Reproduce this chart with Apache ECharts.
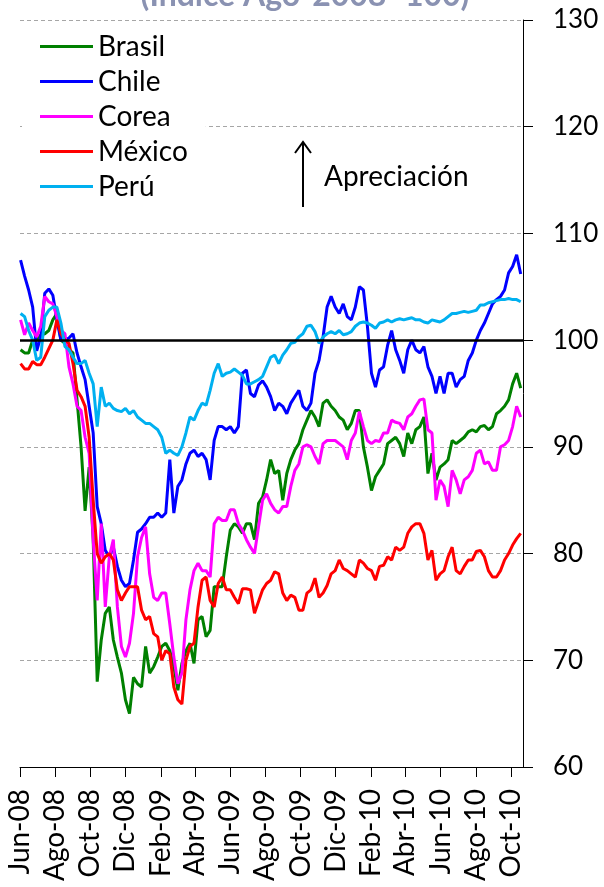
<!DOCTYPE html>
<html>
<head>
<meta charset="utf-8">
<title>Tipo de cambio real</title>
<script src="https://cdn.jsdelivr.net/npm/echarts@6.0.0/dist/echarts.min.js"></script>
<style>
  html, body { margin: 0; padding: 0; background: #fff; }
  #chart { width: 604px; height: 887px; }
</style>
</head>
<body>
<div id="chart"></div>
<script>
// semanas desde el lunes 2 de junio de 2008
const firstWeek = '2008-06-02'
const stepDays = 7

// marcas del eje X (cada dos meses)
const tickDates = ['2008-06-01', '2008-08-01', '2008-10-01', '2008-12-01', '2009-02-01', '2009-04-01', '2009-06-01',
  '2009-08-01', '2009-10-01', '2009-12-01', '2010-02-01', '2010-04-01', '2010-06-01', '2010-08-01', '2010-10-01']
const tickLabels = ['Jun-08', 'Ago-08', 'Oct-08', 'Dic-08', 'Feb-09', 'Abr-09', 'Jun-09',
  'Ago-09', 'Oct-09', 'Dic-09', 'Feb-10', 'Abr-10', 'Jun-10', 'Ago-10', 'Oct-10']
const axisStart = '2008-06-01'
const axisEnd = '2010-10-22'

// Índice Ago-2008=100
const brasil = [99.1, 98.8, 98.8, 100, 100, 100.5, 100.6, 100.9, 101.9, 102.5,
  100, 99.7, 99.1, 98.8, 94.4, 90, 84, 88.1, 81.3, 68,
  71.9, 74.4, 75, 71.9, 70.3, 68.8, 66.3, 65, 68.4, 67.8,
  67.5, 71.3, 68.8, 69.4, 70.3, 71.3, 71.6, 70.9, 69.4, 67.2,
  69.7, 70.9, 71.6, 69.7, 73.8, 74.1, 72.2, 72.8, 76.9, 76.9,
  76.9, 79.7, 82.2, 82.8, 82.5, 81.9, 82.8, 82.8, 81.3, 84.7,
  85.3, 86.9, 88.8, 87.5, 87.8, 85, 87.5, 88.8, 89.7, 90.3,
  91.6, 92.5, 93.4, 92.8, 91.9, 94.1, 94.4, 93.8, 93.4, 92.8,
  92.5, 91.6, 92.2, 93.4, 93.4, 90, 88.1, 85.9, 87.2, 87.8,
  88.4, 90.3, 90.6, 90.9, 90.3, 89.1, 91.3, 90.3, 91.6, 91.9,
  92.8, 87.5, 89.4, 86.9, 88.1, 88.4, 88.8, 90.6, 90.3, 90.6,
  90.9, 91.4, 91.6, 91.4, 91.9, 92, 91.6, 91.9, 93.1, 93.4,
  93.8, 94.4, 95.9, 96.9, 95.5]
const chile = [107.5, 106, 104.7, 103.1, 99, 100.3, 104.4, 104.8, 104.2, 101.9,
  100, 100, 100.2, 100.6, 98.8, 97.5, 96.3, 93.8, 91.3, 84.4,
  82.8, 80.3, 79.7, 80.6, 78.8, 77.5, 76.9, 77.2, 79.4, 82,
  82.3, 82.8, 83.4, 83.4, 83.8, 83.4, 83.8, 88.8, 83.8, 86.3,
  86.9, 88.4, 89.4, 89.7, 89.1, 89.4, 88.8, 86.9, 90.6, 91.9,
  91.9, 91.6, 91.9, 91.3, 91.9, 96.9, 97.2, 95, 94.7, 95.8,
  96.2, 95.6, 94.7, 93.4, 94.1, 93.8, 93.1, 94.1, 94.7, 95.3,
  93.8, 93.4, 94.1, 96.9, 98.1, 100.3, 103.1, 104.1, 103.1, 102.5,
  103.4, 102.2, 101.9, 103.1, 105, 104.7, 101.3, 96.9, 95.6, 97.2,
  97.5, 99.5, 100.9, 99.1, 98.1, 96.9, 99.1, 100, 99.1, 98.8,
  99.4, 97.5, 96.6, 95, 96.6, 95, 96.9, 96.9, 95.6, 96.3,
  96.6, 98.1, 98.8, 100, 100.9, 101.6, 102.5, 103.4, 103.8, 104.1,
  104.7, 106.3, 106.9, 108, 106.2]
const corea = [101.9, 100.5, 101.6, 100.9, 100.3, 101.3, 104.1, 103.6, 103.4, 102.2,
  100.9, 100.6, 97.5, 95.9, 93.8, 93.4, 90.9, 89.4, 81.3, 75.6,
  82.8, 75, 79.7, 81.3, 75, 71.3, 70.3, 71.6, 74.4, 79.7,
  81.5, 82.5, 78.1, 75.9, 75.6, 76.3, 76.3, 73.4, 70.3, 67.8,
  68.8, 73.8, 76.6, 78.4, 79.1, 78.4, 78.4, 77.8, 82.8, 83.4,
  83.1, 83.1, 84.1, 84.1, 82.8, 82.2, 81.3, 80.6, 80, 82.5,
  85, 85.6, 84.7, 84.1, 83.8, 84.4, 84.4, 86.3, 87.8, 88.4,
  90, 90.2, 90, 89.1, 88.4, 90.3, 90.6, 90.6, 90.6, 90.3,
  90, 88.8, 90.6, 91.3, 93.3, 91.9, 90.6, 90.3, 90.6, 90.5,
  91.3, 91.3, 92.5, 92.3, 92.2, 91.6, 92.8, 93.1, 93.8, 94.4,
  94.5, 91.6, 91.3, 85, 86.9, 86.3, 84.4, 87.8, 86.9, 85.6,
  86.9, 87.2, 87.8, 89.4, 89.7, 88.4, 88.6, 87.8, 87.8, 90,
  90.2, 90.6, 91.9, 93.8, 92.8]
const mexico = [97.8, 97.3, 97.3, 98, 97.7, 97.7, 98.4, 99.2, 100, 101.9,
  100.6, 100, 99.7, 97.8, 95.3, 94.7, 93.8, 90.9, 85, 80,
  79.1, 79.7, 80, 79.4, 76.6, 75.6, 76.3, 76.9, 76.9, 76.9,
  74.7, 73.8, 74.1, 72.5, 72.2, 70, 70.9, 70.6, 67.5, 66.3,
  65.9, 70, 71.3, 71.6, 75, 77.5, 77.8, 75.6, 75, 77.2,
  77.8, 76.6, 76.6, 75.9, 75.3, 76.7, 76.7, 76.6, 74.4, 75.5,
  76.6, 77.2, 77.5, 78.3, 78.1, 76.3, 75.6, 76.1, 75.9, 74.7,
  74.7, 76.3, 76.6, 77.7, 75.9, 76.3, 77, 78.1, 78.4, 79.4,
  78.6, 78.4, 78.1, 77.8, 79.4, 79.1, 78.6, 78.4, 77.5, 78.8,
  78.9, 79.7, 79.4, 80.6, 80.3, 80.6, 81.9, 82.5, 82.8, 82.8,
  81.9, 79.4, 80.3, 77.5, 78.1, 78.4, 79.7, 80.6, 78.4, 78.1,
  78.8, 79.4, 79.4, 80.2, 80.3, 79.7, 78.4, 77.8, 77.8, 78.4,
  79.4, 80, 80.8, 81.4, 81.9]
const peru = [102.5, 102.2, 100.9, 100, 98.1, 98.4, 102.2, 102.8, 103.1, 103.1,
  101.6, 99.4, 99.1, 98.4, 97.8, 97.8, 98.1, 96.9, 95.9, 91.9,
  95.6, 93.8, 94.1, 93.6, 93.4, 93.3, 93.6, 93.1, 93.4, 92.8,
  92.5, 92.2, 92.2, 91.9, 91.6, 90.9, 89.4, 89.7, 89.4, 89.2,
  90, 91.3, 92.8, 92.5, 93.4, 94.1, 93.9, 95.3, 96.9, 97.8,
  96.6, 96.9, 97, 97.3, 97, 96.7, 95.9, 95.9, 96.1, 96.3,
  96.6, 97.5, 98.4, 98.6, 97.8, 98.6, 99.1, 99.7, 99.8, 100.3,
  100.6, 101.3, 101.4, 100.8, 99.7, 100.3, 100.6, 100.8, 100.6, 100.9,
  100.5, 100.6, 100.8, 101.3, 101.6, 101.7, 101.6, 101.4, 101.1, 101.6,
  101.7, 101.9, 101.7, 101.9, 102, 101.9, 102, 102.1, 101.9, 101.9,
  101.7, 101.6, 101.9, 101.8, 101.7, 101.9, 102.2, 102.5, 102.5, 102.6,
  102.7, 102.6, 102.7, 102.8, 103.3, 103.3, 103.5, 103.6, 103.7, 103.8,
  103.8, 103.9, 103.8, 103.8, 103.6]

const DAY = 24 * 3600 * 1000
function utc(s) {
  const p = s.split('-').map(Number)
  return Date.UTC(p[0], p[1] - 1, p[2])
}
const weekTimes = brasil.map((_, i) => utc(firstWeek) + i * stepDays * DAY)
const tickTimes = tickDates.map(utc)
function pairs(arr) {
  return arr.map((v, i) => [weekTimes[i], v])
}

const font = 'Lato, "Open Sans", sans-serif'

function lineSeries(name, color, data) {
  return {
    name: name,
    type: 'line',
    data: pairs(data),
    showSymbol: false,
    symbol: 'none',
    lineStyle: { color: color, width: 3 },
    itemStyle: { color: color },
    silent: true
  }
}

const series = [
  lineSeries('Brasil', '#008000', brasil),
  lineSeries('Chile', '#0000ff', chile),
  lineSeries('Corea', '#ff00ff', corea),
  lineSeries('México', '#ff0000', mexico),
  lineSeries('Perú', '#00b0f0', peru)
]
// línea de referencia en 100
series[4].markLine = {
  silent: true,
  symbol: 'none',
  label: { show: false },
  lineStyle: { color: '#000', width: 2.5, type: 'solid' },
  data: [{ yAxis: 100 }]
}

var chart = echarts.init(document.getElementById('chart'))
var option = {
  animation: false,
  backgroundColor: '#fff',
  grid: { left: 20, right: 81, top: 20, bottom: 120 },
  legend: {
    orient: 'vertical',
    left: 22,
    top: 27,
    padding: [2, 18, 2, 18],
    backgroundColor: '#fff',
    icon: 'rect',
    itemWidth: 53,
    itemHeight: 3,
    itemGap: 0,
    textStyle: { fontFamily: font, fontSize: 28, color: '#000', lineHeight: 35 },
    data: ['Brasil', 'Chile', 'Corea', 'México', 'Perú']
  },
  xAxis: {
    type: 'value',
    min: utc(axisStart),
    max: utc(axisEnd),
    splitLine: { show: false },
    axisLine: { show: true, lineStyle: { color: '#000', width: 1 } },
    axisTick: { show: true, length: 10, lineStyle: { color: '#000' }, customValues: tickTimes },
    axisLabel: {
      customValues: tickTimes,
      rotate: 90,
      margin: 22,
      fontFamily: font,
      fontSize: 28,
      color: '#000',
      formatter: function (value) {
        const k = tickTimes.indexOf(value)
        return k >= 0 ? tickLabels[k] : ''
      }
    }
  },
  yAxis: {
    type: 'value',
    position: 'right',
    min: 60,
    max: 130,
    interval: 10,
    axisLine: { show: true, lineStyle: { color: '#000', width: 1 } },
    axisTick: { show: true, inside: false, length: 10, lineStyle: { color: '#000' } },
    axisLabel: { margin: 30, fontFamily: font, fontSize: 26, color: '#000' },
    splitLine: { show: true, lineStyle: { color: '#a6a6a6', width: 1, type: [4, 3] } }
  },
  graphic: [
    {
      type: 'text',
      z: 100,
      style: {
        x: 305, y: 12,
        text: '(Índice Ago-2008=100)',
        fill: '#8a92b2',
        font: 'bold 32px ' + font,
        align: 'center',
        verticalAlign: 'bottom'
      }
    },
    {
      type: 'text',
      z: 100,
      style: {
        x: 324, y: 177,
        text: 'Apreciación',
        fill: '#000',
        font: '28px ' + font,
        align: 'left',
        verticalAlign: 'middle'
      }
    },
    {
      type: 'line',
      z: 100,
      shape: { x1: 303, y1: 207, x2: 303, y2: 142 },
      style: { stroke: '#000', lineWidth: 2 }
    },
    {
      type: 'polyline',
      z: 100,
      shape: { points: [[295, 153], [303, 142], [311, 153]] },
      style: { stroke: '#000', lineWidth: 2, fill: null }
    }
  ],
  series: series
}
chart.setOption(option)
</script>
</body>
</html>
